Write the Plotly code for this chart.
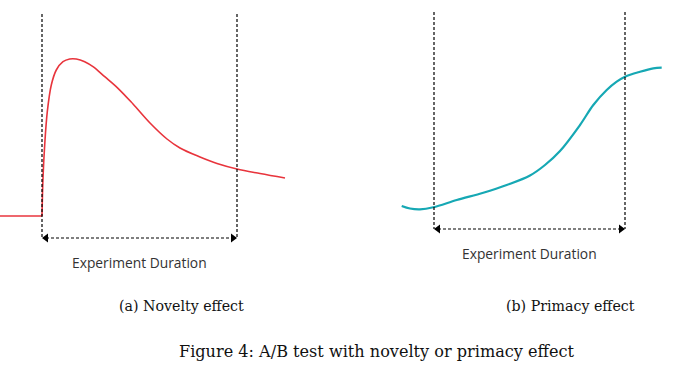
import plotly.graph_objects as go

# Novelty effect curve (pixel-space units)
baseline_x = [0, 42]
baseline_y = [216, 216]
novelty_x = [42, 43, 44.7, 47.3, 51.3, 56.3, 63, 69.7, 76.3, 84.7, 93, 104.7, 118, 133, 150, 167, 180, 200, 217, 237, 260, 285]
novelty_y = [216, 178, 145, 111.7, 85, 70, 61.7, 59, 59, 61.7, 66.7, 76.7, 88.3, 104, 123, 139, 148, 157, 163.5, 169, 173.5, 178]

# Primacy effect curve
primacy_x = [401.7, 410, 420, 433.3, 456.7, 483.3, 506.7, 530, 545, 560, 580, 593.3, 606.7, 616.7, 625, 640, 653.3, 661.7]
primacy_y = [206, 208.5, 209.3, 207.3, 200, 192.7, 185, 175.5, 165, 151, 125, 105, 90, 81.7, 76.7, 71.7, 68.3, 67.7]

# Experiment windows: [start, end, top, bottom]
windows = [[42, 237, 14, 238], [434, 625, 12, 229]]
duration_label = "Experiment Duration"
sub_captions = ["(a) Novelty effect", "(b) Primacy effect"]
sub_caption_x = [181.5, 570.5]
figure_caption = "Figure 4: A/B test with novelty or primacy effect"

W, H = 698, 376

fig = go.Figure()

fig.add_trace(go.Scatter(x=baseline_x, y=baseline_y, mode="lines",
                         line=dict(color="#E8343C", width=1.6), hoverinfo="skip"))
fig.add_trace(go.Scatter(x=novelty_x, y=novelty_y, mode="lines",
                         line=dict(color="#E8343C", width=1.6, shape="spline", smoothing=1.0),
                         hoverinfo="skip"))
fig.add_trace(go.Scatter(x=primacy_x, y=primacy_y, mode="lines",
                         line=dict(color="#16A8B4", width=2.2, shape="spline", smoothing=1.0),
                         hoverinfo="skip"))

for (x0, x1, top, bot) in windows:
    dash = dict(color="black", width=1.2, dash="3px,2px")
    fig.add_trace(go.Scatter(x=[x0, x0], y=[top, bot], mode="lines", line=dash, hoverinfo="skip"))
    fig.add_trace(go.Scatter(x=[x1, x1], y=[top, bot], mode="lines", line=dash, hoverinfo="skip"))
    fig.add_trace(go.Scatter(x=[x0 + 4, x1 - 4], y=[bot, bot], mode="lines", line=dash, hoverinfo="skip"))
    fig.add_trace(go.Scatter(x=[x0 + 4, x1 - 4], y=[bot, bot], mode="markers",
                             marker=dict(symbol=["triangle-left", "triangle-right"], size=8, color="black"),
                             hoverinfo="skip"))
    fig.add_annotation(x=(x0 + x1) / 2, y=bot + 24, text=duration_label, showarrow=False,
                       font=dict(family="Open Sans", size=13.8, color="#333333"))

for cx, t in zip(sub_caption_x, sub_captions):
    fig.add_annotation(x=cx, y=306, text=t, showarrow=False,
                       font=dict(family="DejaVu Serif", size=14.2, color="#111111"))

fig.add_annotation(x=376.5, y=351, text=figure_caption, showarrow=False,
                   font=dict(family="DejaVu Serif", size=16.1, color="#111111"))

fig.update_layout(width=W, height=H, autosize=False,
                  margin=dict(l=0, r=0, t=0, b=0),
                  paper_bgcolor="white", plot_bgcolor="white", showlegend=False)
fig.update_xaxes(range=[0, W], visible=False, fixedrange=True)
fig.update_yaxes(range=[H, 0], visible=False, fixedrange=True)

fig.write_html("out.html", config={"displayModeBar": False},
               post_script="document.body.style.margin='0';document.body.style.overflow='hidden';")
